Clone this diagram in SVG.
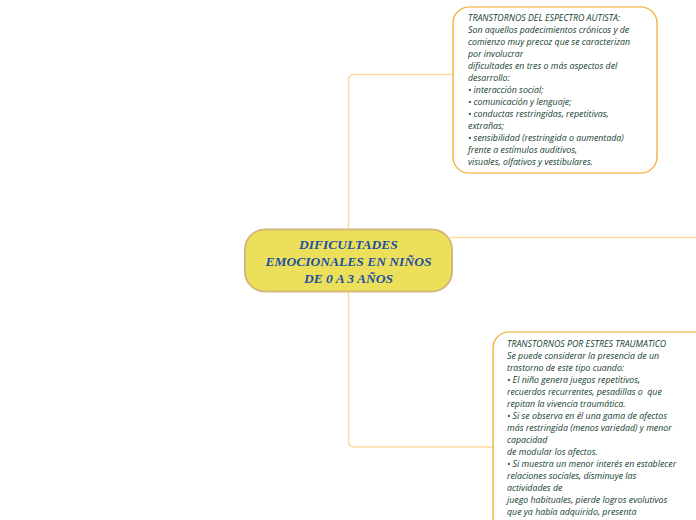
<svg xmlns="http://www.w3.org/2000/svg" width="696" height="520" viewBox="0 0 696 520">
<style>
.conn{fill:none;stroke:#fcd9a0;stroke-width:1.5}
.box{fill:#ffffff;stroke:#f5a623;stroke-width:1.2}
.t{font-family:"Open Sans","Noto Sans",sans-serif;font-style:italic;font-size:8.8px;fill:#123d2c}
.c{font-family:"Liberation Serif",serif;font-style:italic;font-weight:bold;font-size:13.5px;fill:#1f4fa3;text-anchor:middle}
</style>
<rect width="696" height="520" fill="#ffffff"/>
<g id="connectors">
<path class="conn" d="M453 74.5 H354.5 Q348.5 74.5 348.5 80.5 V441 Q348.5 447 354.5 447 H493"/>
<path class="conn" d="M450 237.5 H696"/>
</g>
<g id="center">
<rect x="245" y="229.5" width="207" height="62" rx="20" fill="#ece05a" stroke="#d4b878" stroke-width="2"/>
<text class="c" x="348.5" y="248.5">DIFICULTADES</text>
<text class="c" x="348.5" y="265.5">EMOCIONALES EN NIÑOS</text>
<text class="c" x="348.5" y="282.5">DE 0 A 3 AÑOS</text>
</g>
<g id="autista">
<rect class="box" x="453" y="7" width="204" height="166" rx="16"/>
<text class="t">
<tspan x="468" y="20.5">TRANSTORNOS DEL ESPECTRO AUTISTA:</tspan>
<tspan x="468" y="32.5">Son aquellos padecimientos crónicos y de</tspan>
<tspan x="468" y="44.5">comienzo muy precoz que se caracterizan</tspan>
<tspan x="468" y="56.5">por involucrar</tspan>
<tspan x="468" y="68.5">dificultades en tres o más aspectos del</tspan>
<tspan x="468" y="80.5">desarrollo:</tspan>
<tspan x="468" y="92.5">• interacción social;</tspan>
<tspan x="468" y="104.5">• comunicación y lenguaje;</tspan>
<tspan x="468" y="116.5">• conductas restringidas, repetitivas,</tspan>
<tspan x="468" y="128.5">extrañas;</tspan>
<tspan x="468" y="140.5">• sensibilidad (restringida o aumentada)</tspan>
<tspan x="468" y="152.5">frente a estímulos auditivos,</tspan>
<tspan x="468" y="164.5">visuales, olfativos y vestibulares.</tspan>
</text>
</g>
<g id="traumatico">
<rect class="box" x="493" y="332" width="220" height="220" rx="16"/>
<text class="t">
<tspan x="507" y="346.5">TRANSTORNOS POR ESTRES TRAUMATICO</tspan>
<tspan x="507" y="358.5">Se puede considerar la presencia de un</tspan>
<tspan x="507" y="370.5">trastorno de este tipo cuando:</tspan>
<tspan x="507" y="382.5">• El niño genera juegos repetitivos,</tspan>
<tspan x="507" y="394.5">recuerdos recurrentes, pesadillas o &#160;que</tspan>
<tspan x="507" y="406.5">repitan la vivencia traumática.</tspan>
<tspan x="507" y="418.5">• Si se observa en él una gama de afectos</tspan>
<tspan x="507" y="430.5">más restringida (menos variedad) y menor</tspan>
<tspan x="507" y="442.5">capacidad</tspan>
<tspan x="507" y="454.5">de modular los afectos.</tspan>
<tspan x="507" y="466.5">• Si muestra un menor interés en establecer</tspan>
<tspan x="507" y="478.5">relaciones sociales, disminuye las</tspan>
<tspan x="507" y="490.5">actividades de</tspan>
<tspan x="507" y="502.5">juego habituales, pierde logros evolutivos</tspan>
<tspan x="507" y="514.5">que ya había adquirido, presenta</tspan>
</text>
</g>
</svg>
